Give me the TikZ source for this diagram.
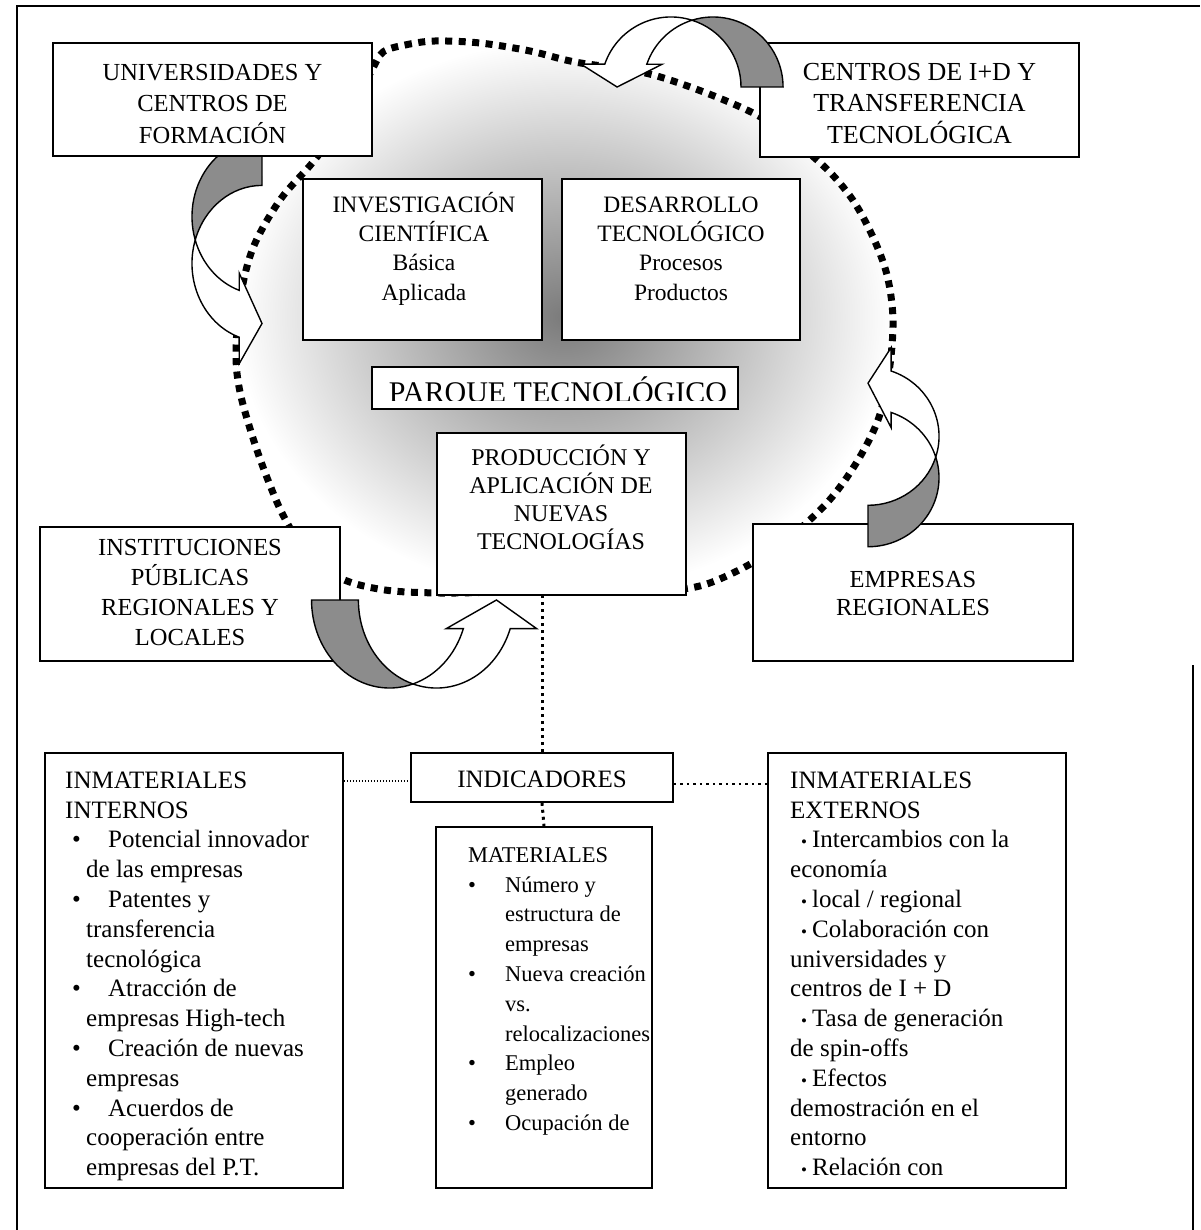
\documentclass[tikz,border=0pt]{standalone}
\usepackage{fontspec}
\setmainfont{Liberation Serif}
\newcommand{\firstln}{\rule{0pt}{24pt}}
\newcommand{\bi}{\hspace*{7pt}\makebox[36pt][l]{\textbullet}}
\newcommand{\ci}{\hspace*{21pt}}
\newcommand{\bm}{\hspace*{0pt}\makebox[37pt][l]{\textbullet}}
\newcommand{\cm}{\hspace*{37pt}}
\newcommand{\be}{\hspace*{11pt}{\fontsize{17}{17}\selectfont\textbullet}\hspace{5pt}}
\newcommand{\curvarrow}[2]{%
 \begin{scope}[shift={#1}, cm={#2,(0,0)}]
   \filldraw[arrline, backfill] (0,-0.954) arc[start angle=-107.5, end angle=0, radius=1]
      -- (0.7,0) arc[start angle=0, end angle=-72.5, radius=1] -- cycle;
   \filldraw[arrline, fill=white] (0,-0.954) arc[start angle=-72.5, end angle=-161, radius=1]
      -- (-1.5855,-0.3256) -- (-1.07,0.0) -- (-0.4255,-0.3256) -- (-0.6455,-0.3256)
      arc[start angle=-161, end angle=-107.5, radius=1] -- cycle;
 \end{scope}}
\newcommand{\ringpath}{plot[smooth cycle, tension=0.55] coordinates {(383,52) (405,45) (435,41) (480,43) (530,51) (575,62) (657,76) (757,115) (817,160) (850,196) (872,235) (887,275) (893,320) (889,372) (878,420) (855,465) (825,505) (780,545) (735,572) (690,588) (620,590) (560,591) (500,592) (440,593) (385,590) (340,578) (305,550) (283,515) (266,475) (252,435) (240,392) (236,355) (240,300) (253,248) (280,200) (313,162) (340,125) (360,92) (372,70)}}
\begin{document}
\begin{tikzpicture}[x=1pt,y=-1pt,
  box/.style={draw, line width=1.6pt, fill=white, inner sep=0pt},
  txt/.style={inner sep=0pt, anchor=north, align=center},
  btxt/.style={inner sep=0pt, anchor=north west, align=left},
  bigfont/.style={font=\fontsize{24.5}{31.5}\selectfont},
  midfont/.style={font=\fontsize{23.5}{29.3}\selectfont},
  lowfont/.style={font=\fontsize{25}{29.8}\selectfont},
  matfont/.style={font=\fontsize{22.5}{29.8}\selectfont},
  arrline/.style={line width=1.4pt, line join=miter},
  backfill/.style={fill=black!45},
  dotring/.style={line width=7pt, dash pattern=on 7pt off 6.5pt},
  vdot/.style={line width=3pt, dash pattern=on 3pt off 4pt},
  fdot/.style={line width=1.2pt, dash pattern=on 1.5pt off 1.5pt},
  rdot/.style={line width=2.5pt, dash pattern=on 2.5pt off 4pt},
  frame/.style={line width=1.6pt}
]
\useasboundingbox (0,0) rectangle (1200,1230);
\fill[white] (0,0) rectangle (1200,1230);
% outer frame
\coordinate (f1) at (17,1230);
\coordinate (f2) at (17,6);
\coordinate (f3) at (1200,6);
\coordinate (f4) at (1193,665);
\coordinate (f5) at (1193,1230);
\draw[frame] (f1) -- (f2) -- (f3);
\draw[frame] (f4) -- (f5);

% shaded park area with dotted border
\shade[inner color=black!52, outer color=white] \ringpath;
\draw[dotring] \ringpath;

% left arrow lies under the box above it
\curvarrow{(262,240)}{0,78,-70,0}

% boxes
\node[box, minimum width=319pt, minimum height=113pt] (univ) at (212.5,99.5) {};
\node[txt, bigfont] (univt) at (212.5,56) {\firstln UNIVERSIDADES Y\\CENTROS DE\\FORMACIÓN};

\node[box, minimum width=319pt, minimum height=114pt] (cent) at (919.5,100) {};
\node[txt, font=\fontsize{26}{31.5}\selectfont] (centt) at (919.5,56) {\firstln CENTROS DE I+D Y\\TRANSFERENCIA\\TECNOLÓGICA};

\node[box, minimum width=239pt, minimum height=161pt] (inv) at (422.5,259.5) {};
\node[txt, midfont] (invt) at (424,188) {\firstln INVESTIGACIÓN\\CIENTÍFICA\\Básica\\Aplicada};

\node[box, minimum width=238pt, minimum height=161pt] (des) at (681,259.5) {};
\node[txt, midfont] (dest) at (681,188) {\firstln DESARROLLO\\TECNOLÓGICO\\Procesos\\Productos};

\node[box, minimum width=366pt, minimum height=42pt] (parque) at (555,388) {};
\begin{scope}
\clip (372,367) rectangle (738,400.5);
\node[inner sep=0pt, anchor=base, font=\fontsize{30}{30}\selectfont] (parquet) at (558,402.5) {PARQUE TECNOLÓGICO};
\end{scope}

\node[box, minimum width=249pt, minimum height=162pt] (prod) at (561.5,514) {};
\node[txt, font=\fontsize{24}{28}\selectfont] (prodt) at (561,441) {\firstln PRODUCCIÓN Y\\APLICACIÓN DE\\NUEVAS\\TECNOLOGÍAS};

\node[box, minimum width=300pt, minimum height=134pt] (inst) at (190,594) {};
\node[txt, font=\fontsize{24.5}{30}\selectfont] (instt) at (190,531) {\firstln INSTITUCIONES\\PÚBLICAS\\REGIONALES Y\\LOCALES};

\node[box, minimum width=320pt, minimum height=137pt] (emp) at (913,592.5) {};
\node[txt, font=\fontsize{24.5}{28.5}\selectfont] (empt) at (913,563) {\firstln EMPRESAS\\REGIONALES};

% curved arrows drawn over the boxes
\curvarrow{(692,87)}{70,0,0,70}
\curvarrow{(868,457)}{0,-69,71,0}
\curvarrow{(413,600)}{-78,0,0,-88}

% indicator boxes
\node[box, minimum width=262pt, minimum height=49pt] (ind) at (542,777.5) {};
\node[inner sep=0pt, anchor=base, font=\fontsize{25}{25}\selectfont] (indt) at (542,787) {INDICADORES};

\node[box, minimum width=298pt, minimum height=435pt] (intern) at (194,970.5) {};
\node[btxt, lowfont] (interntxt) at (65,764) {\firstln INMATERIALES\\INTERNOS\\\bi Potencial innovador\\\ci de las empresas\\\bi Patentes y\\\ci transferencia\\\ci tecnológica\\\bi Atracción de\\\ci empresas High-tech\\\bi Creación de nuevas\\\ci empresas\\\bi Acuerdos de\\\ci cooperación entre\\\ci empresas del P.T.};

\node[box, minimum width=216pt, minimum height=361pt] (mat) at (544,1007.5) {};
\node[btxt, matfont] (mattxt) at (468,838) {\firstln MATERIALES\\\bm Número y\\\cm estructura de\\\cm empresas\\\bm Nueva creación\\\cm vs.\\\cm relocalizaciones\\\bm Empleo\\\cm generado\\\bm Ocupación de};

\node[box, minimum width=298pt, minimum height=435pt] (ext) at (917,970.5) {};
\node[btxt, lowfont] (exttxt) at (790,764) {\firstln INMATERIALES\\EXTERNOS\\\be Intercambios con la\\economía\\\be local / regional\\\be Colaboración con\\universidades y\\centros de I + D\\\be Tasa de generación\\de spin-offs\\\be Efectos\\demostración en el\\entorno\\\be Relación con};

% dotted connectors
\draw[vdot] (ind.north) -- (ind.north |- prod.south);
\draw[vdot] (ind.south) -- (mat.north);
\draw[fdot] (intern.east |- 0,781) -- (ind.west |- 0,781);
\draw[rdot] (ind.east |- 0,784) -- (ext.west |- 0,784);
\end{tikzpicture}
\end{document}
